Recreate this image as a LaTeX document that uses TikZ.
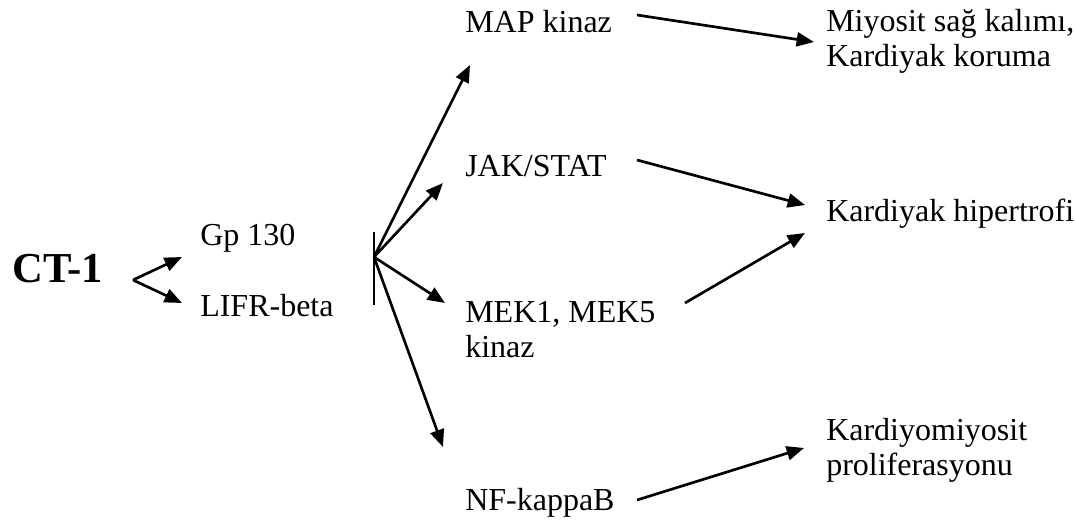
\documentclass[tikz,border=0pt]{standalone}
\usepackage{fontspec}
\setmainfont{Liberation Serif}
\usetikzlibrary{arrows.meta, positioning}

\begin{document}
\begin{tikzpicture}[
      x=0.75pt, y=-0.75pt,
      font=\fontsize{24}{26.25}\selectfont,
      label/.style={anchor=base west, inner sep=0pt, align=left},
      pathway/.style={-{Triangle[length=13pt, width=10.5pt]}, line width=2pt},
      block/.style={line width=2pt}
  ]
  \useasboundingbox (0,0) rectangle (1076,524);

  % Ligand and receptors
  \node[label, font=\fontsize{32}{35}\selectfont\bfseries] (ct) at (12,283) {CT-1};
  \node[label] (gp) at (200,246) {Gp 130};
  \node[label] (lifr) at (200,317) {LIFR-beta};

  % Signal pathways (base = last line)
  \node[label] (map) at (465,33) {MAP kinaz};
  \node[label] (jak) at (465,177) {JAK/STAT};
  \node[label] (mek) at (465,358) {MEK1, MEK5\\kinaz};
  \node[label] (nf) at (465,510) {NF-kappaB};

  % Effects
  \node[label] (surv) at (826,67) {Miyosit sağ kalımı,\\Kardiyak koruma};
  \node[label] (hyp) at (826,222) {Kardiyak hipertrofi};
  \node[label] (prol) at (826,475) {Kardiyomiyosit\\proliferasyonu};

  % Arrow ends
  \coordinate (fork) at (133,280);
  \coordinate (gpin) at (182,257);
  \coordinate (lifrin) at (182,303);
  \coordinate (bartop) at (374,232);
  \coordinate (barbot) at (374,305);
  \coordinate (fan) at (374,257);
  \coordinate (mapin) at (470,65);
  \coordinate (jakin) at (443,183);
  \coordinate (mekin) at (445,303);
  \coordinate (nfin) at (443,447);
  \coordinate (mapout) at (637,15);
  \coordinate (jakout) at (637,160);
  \coordinate (mekout) at (685,303);
  \coordinate (nfout) at (637,500);
  \coordinate (survin) at (814,42);
  \coordinate (hypin1) at (805,205);
  \coordinate (hypin2) at (805,233);
  \coordinate (prolin) at (804,448);

  % CT-1 to receptors
  \draw[pathway] (fork) -- (gpin);
  \draw[pathway] (fork) -- (lifrin);

  % Receptor fan
  \draw[block] (bartop) -- (barbot);
  \draw[pathway] (fan) -- (mapin);
  \draw[pathway] (fan) -- (jakin);
  \draw[pathway] (fan) -- (mekin);
  \draw[pathway] (fan) -- (nfin);

  % Pathways to effects
  \draw[pathway] (mapout) -- (survin);
  \draw[pathway] (jakout) -- (hypin1);
  \draw[pathway] (mekout) -- (hypin2);
  \draw[pathway] (nfout) -- (prolin);

\end{tikzpicture}
\end{document}
